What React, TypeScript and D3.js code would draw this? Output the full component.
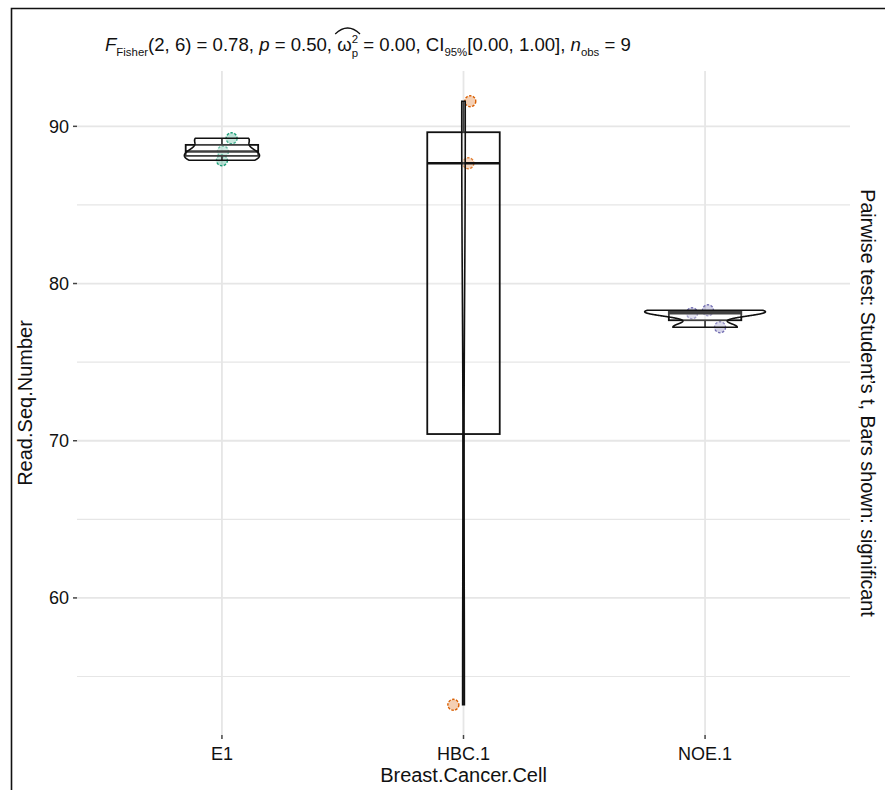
import { useEffect, useRef } from "react";
import * as d3 from "d3";

const categories = ["E1", "HBC.1", "NOE.1"];
const e1Values = [89.24, 88.4, 87.84];
const hbcValues = [91.6, 87.65, 53.2];
const noeValues = [78.11, 78.3, 77.22];
// horizontal jitter of each point, in category steps
const e1Jitter = [0.04, 0.004, 0];
const hbcJitter = [0.028, 0.02, -0.042];
const noeJitter = [-0.054, 0.012, 0.062];
const majorTicks = [60, 70, 80, 90];
const minorTicks = [55, 65, 75, 85];
const COLORS = ["#1B9E77", "#D95F02", "#7570B3"];

const FONT = "'Liberation Sans', Arial, sans-serif";

type Group = { cat: string; values: number[]; jitter: number[]; color: string };

function bwNrd0(v: number[]) {
  const sd = d3.deviation(v) ?? 1;
  const iqr = (d3.quantile(v, 0.75) ?? 0) - (d3.quantile(v, 0.25) ?? 0);
  const lo = Math.min(sd, iqr / 1.34) || sd || 1;
  return 0.9 * lo * Math.pow(v.length, -0.2);
}

function density(v: number[], n = 256) {
  const bw = bwNrd0(v);
  const [lo, hi] = d3.extent(v) as [number, number];
  return d3.range(n).map((i) => {
    const t = lo + ((hi - lo) * i) / (n - 1);
    const d =
      d3.mean(v, (x) => Math.exp(-0.5 * ((t - x) / bw) ** 2) / Math.sqrt(2 * Math.PI))! / bw;
    return { t, d };
  });
}

export default function App() {
  const ref = useRef<SVGSVGElement>(null);

  useEffect(() => {
    if (!ref.current) return;
    document.body.style.margin = "0";
    const width = 885;
    const height = 790;
    const panel = { left: 77, right: 850, top: 71, bottom: 735 };

    const groups: Group[] = [
      { cat: categories[0], values: e1Values, jitter: e1Jitter, color: COLORS[0] },
      { cat: categories[1], values: hbcValues, jitter: hbcJitter, color: COLORS[1] },
      { cat: categories[2], values: noeValues, jitter: noeJitter, color: COLORS[2] },
    ];

    const svg = d3.select(ref.current);
    svg.selectAll("*").remove();
    svg.attr("width", width).attr("height", height).style("font-family", FONT);

    const x = d3
      .scalePoint()
      .domain(categories)
      .range([panel.left, panel.right])
      .padding(0.6);
    const step = x.step();

    const all = groups.flatMap((g) => g.values);
    const [ymin, ymax] = d3.extent(all) as [number, number];
    const pad = (ymax - ymin) * 0.05;
    const y = d3
      .scaleLinear()
      .domain([ymin - pad, ymax + pad])
      .range([panel.bottom, panel.top]);

    // outer frame
    svg
      .append("path")
      .attr("d", `M11.5,${height} V8.5 H${width}`)
      .attr("fill", "none")
      .attr("stroke", "#111")
      .attr("stroke-width", 1.6);

    // grid
    const grid = svg.append("g").attr("stroke", "#e6e6e6");
    grid
      .selectAll("line.minor")
      .data(minorTicks)
      .join("line")
      .attr("x1", panel.left)
      .attr("x2", panel.right)
      .attr("y1", (d) => y(d))
      .attr("y2", (d) => y(d))
      .attr("stroke-width", 1.2);
    grid
      .selectAll("line.major")
      .data(majorTicks)
      .join("line")
      .attr("x1", panel.left)
      .attr("x2", panel.right)
      .attr("y1", (d) => y(d))
      .attr("y2", (d) => y(d))
      .attr("stroke-width", 1.8);
    grid
      .selectAll("line.vx")
      .data(categories)
      .join("line")
      .attr("x1", (d) => x(d)!)
      .attr("x2", (d) => x(d)!)
      .attr("y1", panel.top)
      .attr("y2", panel.bottom)
      .attr("stroke-width", 1.8);

    // axis ticks and labels
    svg
      .append("g")
      .attr("stroke", "#444")
      .selectAll("line")
      .data(majorTicks)
      .join("line")
      .attr("x1", panel.left - 4)
      .attr("x2", panel.left)
      .attr("y1", (d) => y(d))
      .attr("y2", (d) => y(d))
      .attr("stroke-width", 1.5);
    svg
      .append("g")
      .selectAll("text")
      .data(majorTicks)
      .join("text")
      .attr("x", panel.left - 8)
      .attr("y", (d) => y(d))
      .attr("dy", "0.35em")
      .attr("text-anchor", "end")
      .attr("font-size", 18)
      .attr("fill", "#111")
      .text((d) => d);

    svg
      .append("g")
      .attr("stroke", "#444")
      .selectAll("line")
      .data(categories)
      .join("line")
      .attr("x1", (d) => x(d)!)
      .attr("x2", (d) => x(d)!)
      .attr("y1", panel.bottom)
      .attr("y2", panel.bottom + 4)
      .attr("stroke-width", 1.5);
    svg
      .append("g")
      .selectAll("text")
      .data(categories)
      .join("text")
      .attr("x", (d) => x(d)!)
      .attr("y", 760)
      .attr("text-anchor", "middle")
      .attr("font-size", 18)
      .attr("fill", "#111")
      .text((d) => d);

    svg
      .append("text")
      .attr("x", (panel.left + panel.right) / 2)
      .attr("y", 782)
      .attr("text-anchor", "middle")
      .attr("font-size", 20)
      .attr("fill", "#111")
      .text("Breast.Cancer.Cell");

    svg
      .append("text")
      .attr("transform", `translate(32,${(panel.top + panel.bottom) / 2}) rotate(-90)`)
      .attr("text-anchor", "middle")
      .attr("font-size", 20)
      .attr("fill", "#111")
      .text("Read.Seq.Number");

    svg
      .append("text")
      .attr("transform", `translate(861,403) rotate(90)`)
      .attr("text-anchor", "middle")
      .attr("font-size", 19.7)
      .attr("fill", "#111")
      .text("Pairwise test: Student\u2019s t, Bars shown: significant");

    // points
    groups.forEach((g) => {
      svg
        .append("g")
        .selectAll("circle")
        .data(g.values)
        .join("circle")
        .attr("cx", (d, i) => x(g.cat)! + g.jitter[i] * step)
        .attr("cy", (d) => y(d))
        .attr("r", 5.5)
        .attr("fill", g.color)
        .attr("fill-opacity", 0.3)
        .attr("stroke", g.color)
        .attr("stroke-width", 1.4)
        .attr("stroke-dasharray", "2.5 1.5");
    });

    // boxplots
    groups.forEach((g) => {
      const s = [...g.values].sort(d3.ascending);
      const q1 = d3.quantile(s, 0.25)!;
      const med = d3.quantile(s, 0.5)!;
      const q3 = d3.quantile(s, 0.75)!;
      const iqr = q3 - q1;
      const lo = d3.min(s.filter((v) => v >= q1 - 1.5 * iqr))!;
      const hi = d3.max(s.filter((v) => v <= q3 + 1.5 * iqr))!;
      const cx = x(g.cat)!;
      const bw = 0.3 * step;
      const b = svg.append("g").attr("stroke", "#111").attr("stroke-width", 1.8).attr("fill", "none");
      b.append("line").attr("x1", cx).attr("x2", cx).attr("y1", y(hi)).attr("y2", y(q3));
      b.append("line").attr("x1", cx).attr("x2", cx).attr("y1", y(q1)).attr("y2", y(lo));
      b.append("rect")
        .attr("x", cx - bw / 2)
        .attr("width", bw)
        .attr("y", y(q3))
        .attr("height", y(q1) - y(q3))
        .attr("fill", "#fff")
        .attr("fill-opacity", 0.2);
      b.append("line")
        .attr("x1", cx - bw / 2)
        .attr("x2", cx + bw / 2)
        .attr("y1", y(med))
        .attr("y2", y(med))
        .attr("stroke-width", 2.4);
    });

    // violins (scale = "area", width 0.5)
    const dens = groups.map((g) => density(g.values));
    const maxD = d3.max(dens.flat(), (p) => p.d)!;
    groups.forEach((g, gi) => {
      const cx = x(g.cat)!;
      const half = (p: { d: number }) => (p.d / maxD) * 0.25 * step;
      const area = d3
        .area<{ t: number; d: number }>()
        .y((p) => y(p.t))
        .x0((p) => cx - half(p))
        .x1((p) => cx + half(p));
      svg
        .append("path")
        .datum(dens[gi])
        .attr("d", area)
        .attr("fill", "#fff")
        .attr("fill-opacity", 0.2)
        .attr("stroke", "#111")
        .attr("stroke-width", 1.6);
    });

    // subtitle with statistics
    const big = 18.6;
    const small = 11.4;
    const parts: { s: string; italic?: boolean; small?: boolean; dy?: number; dx?: number }[] = [
      { s: "F", italic: true },
      { s: "Fisher", small: true, dy: 5 },
      { s: "(2, 6) = 0.78, ", dy: -5 },
      { s: "p", italic: true },
      { s: " = 0.50, " },
      { s: "\u03c9" },
      { s: "2", small: true, dy: -8 },
      { s: "p", small: true, dy: 14, dx: -6.3 },
      { s: " = 0.00, CI", dy: -6 },
      { s: "95%", small: true, dy: 5 },
      { s: "[0.00, 1.00], ", dy: -5 },
      { s: "n", italic: true },
      { s: "obs", small: true, dy: 5 },
      { s: " = 9", dy: -5 },
    ];
    const title = svg
      .append("text")
      .attr("x", 105)
      .attr("y", 51)
      .attr("font-size", big)
      .attr("fill", "#111");
    parts.forEach((p) => {
      const t = title.append("tspan").text(p.s);
      if (p.italic) t.attr("font-style", "italic");
      if (p.small) t.attr("font-size", small);
      if (p.dy) t.attr("dy", p.dy);
      if (p.dx) t.attr("dx", p.dx);
    });
    const node = title.node()!;
    const omegaIdx = parts.slice(0, 5).reduce((a, p) => a + p.s.length, 0);
    const hx0 = node.getStartPositionOfChar(omegaIdx).x - 2;
    const hx1 = node.getEndPositionOfChar(omegaIdx + 1).x + 2;
    svg
      .append("path")
      .attr("d", `M${hx0},34 Q${(hx0 + hx1) / 2},22 ${hx1},34`)
      .attr("fill", "none")
      .attr("stroke", "#111")
      .attr("stroke-width", 1.2);
  }, []);

  return <svg ref={ref} style={{ display: "block" }} />;
}
